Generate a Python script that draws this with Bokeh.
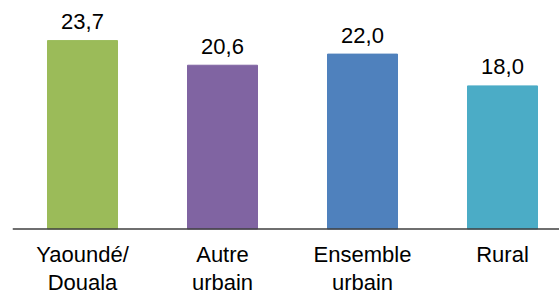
from bokeh.plotting import figure
from bokeh.models import ColumnDataSource, Range1d, Span
from bokeh.core.properties import value
from bokeh.embed import file_html
from bokeh.resources import INLINE

categories = ["Yaoundé/\nDouala", "Autre\nurbain", "Ensemble\nurbain", "Rural"]
values = [23.7, 20.6, 22.0, 18.0]
colors = ["#9BBB59", "#8064A2", "#4F81BD", "#4BACC6"]
labels = [f"{v:.1f}".replace(".", ",") for v in values]

xpos = [i + 0.5 for i in range(len(categories))]
base = [0.0] * len(categories)
src = ColumnDataSource(dict(x=xpos, top=values, base=base, color=colors,
                            label=labels, cat=categories))

FONT = "Liberation Sans"
PXU = 7.95  # pixels per unit
p = figure(width=559, height=293, output_backend="svg", toolbar_location=None,
           x_range=Range1d(0, 547 / 140), y_range=Range1d(-64.5 / PXU, 228.5 / PXU),
           min_border_left=12, min_border_right=0, min_border_top=0, min_border_bottom=0)
p.outline_line_color = None
p.grid.visible = False
p.xaxis.visible = False
p.yaxis.visible = False

p.vbar(x="x", top="top", bottom="base", width=0.5, color="color", source=src)
p.add_layout(Span(location=0, dimension="width", line_color="#3f3f3f", line_width=1.5))

p.text(x="x", y="top", text="label", source=src, text_align="center",
       text_baseline="alphabetic", y_offset=-19, text_font=value(FONT),
       text_font_size="22px", text_color="#000000")
p.text(x="x", y="base", text="cat", source=src, text_align="center",
       text_baseline="top", y_offset=13, text_font=value(FONT),
       text_font_size="22px", text_color="#000000", text_line_height=1.1)

open("out.html", "w").write(file_html(p, INLINE))
